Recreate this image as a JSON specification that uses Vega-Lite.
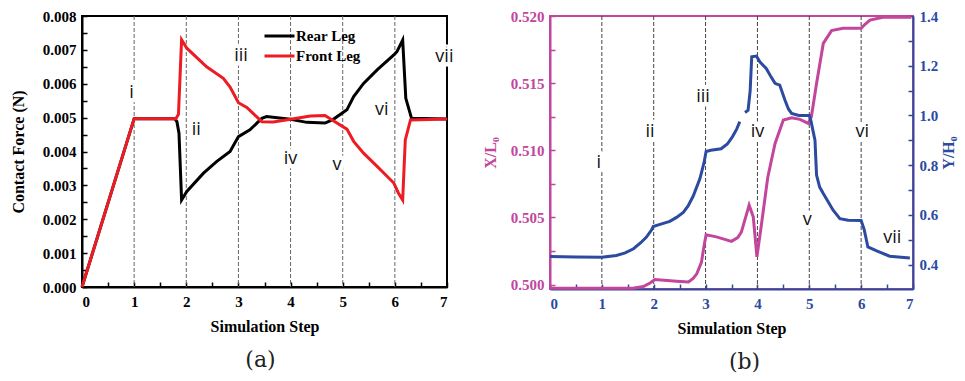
{
  "$schema": "https://vega.github.io/schema/vega-lite/v6.json",
  "background": "white",
  "padding": {"left": 9, "top": 8, "right": 0, "bottom": 0},
  "bounds": "flush",
  "spacing": 103,
  "config": {
    "view": {"stroke": null},
    "font": "Liberation Serif",
    "axis": {
      "grid": false,
      "labelFont": "Liberation Serif",
      "labelFontWeight": "bold",
      "labelFontSize": 15,
      "labelOverlap": false,
      "labelBound": false,
      "titleFont": "Liberation Serif",
      "titleFontWeight": "bold",
      "titleFontSize": 16,
      "domainWidth": 2,
      "tickWidth": 1.5,
      "tickSize": -5,
      "labelPadding": 12
    },
    "axisX": {
      "values": [0, 0.5, 1, 1.5, 2, 2.5, 3, 3.5, 4, 4.5, 5, 5.5, 6, 6.5, 7],
      "labelExpr": "datum.value % 1 === 0 ? format(datum.value, 'd') : ''",
      "titlePadding": 9
    }
  },
  "resolve": {"scale": {"color": "independent"}},
  "hconcat": [
    {
      "width": 365,
      "height": 271,
      "view": {"stroke": "black", "strokeWidth": 2},
      "title": {"text": "(a)", "orient": "bottom", "font": "DejaVu Serif", "fontSize": 22, "fontWeight": "normal", "frame": "group", "anchor": "middle", "offset": 16, "dx": -4, "color": "#222"},
      "layer": [
        {
          "data": {"values": [{"s": 1}, {"s": 2}, {"s": 3}, {"s": 4}, {"s": 5}, {"s": 6}]},
          "mark": {"type": "rule", "strokeDash": [4, 2], "color": "#666", "strokeWidth": 1},
          "encoding": {
            "x": {
              "field": "s", "type": "quantitative",
              "scale": {"domain": [0, 7], "nice": false},
              "axis": {"title": "Simulation Step", "domainColor": "black", "tickColor": "black", "labelColor": "black", "titleColor": "black"}
            }
          }
        },
        {
          "data": {"name": "legs", "values": [
            {"leg": "Rear Leg", "step": 0, "f": 0},
            {"leg": "Rear Leg", "step": 1, "f": 0.00497},
            {"leg": "Rear Leg", "step": 1.78, "f": 0.00497},
            {"leg": "Rear Leg", "step": 1.82, "f": 0.00488},
            {"leg": "Rear Leg", "step": 1.86, "f": 0.00454},
            {"leg": "Rear Leg", "step": 1.91, "f": 0.00257},
            {"leg": "Rear Leg", "step": 2.01, "f": 0.00282},
            {"leg": "Rear Leg", "step": 2.33, "f": 0.00336},
            {"leg": "Rear Leg", "step": 2.58, "f": 0.0037},
            {"leg": "Rear Leg", "step": 2.84, "f": 0.004},
            {"leg": "Rear Leg", "step": 3.0, "f": 0.00444},
            {"leg": "Rear Leg", "step": 3.22, "f": 0.00464},
            {"leg": "Rear Leg", "step": 3.45, "f": 0.00498},
            {"leg": "Rear Leg", "step": 3.54, "f": 0.00503},
            {"leg": "Rear Leg", "step": 4.0, "f": 0.00495},
            {"leg": "Rear Leg", "step": 4.31, "f": 0.00486},
            {"leg": "Rear Leg", "step": 4.66, "f": 0.00484},
            {"leg": "Rear Leg", "step": 4.82, "f": 0.00495},
            {"leg": "Rear Leg", "step": 5.08, "f": 0.00523},
            {"leg": "Rear Leg", "step": 5.21, "f": 0.00562},
            {"leg": "Rear Leg", "step": 5.4, "f": 0.00601},
            {"leg": "Rear Leg", "step": 5.66, "f": 0.00641},
            {"leg": "Rear Leg", "step": 5.98, "f": 0.00685},
            {"leg": "Rear Leg", "step": 6.04, "f": 0.00695},
            {"leg": "Rear Leg", "step": 6.15, "f": 0.00729},
            {"leg": "Rear Leg", "step": 6.21, "f": 0.00557},
            {"leg": "Rear Leg", "step": 6.32, "f": 0.00498},
            {"leg": "Rear Leg", "step": 7.0, "f": 0.00496},
            {"leg": "Front Leg", "step": 0, "f": 0},
            {"leg": "Front Leg", "step": 1, "f": 0.00497},
            {"leg": "Front Leg", "step": 1.8, "f": 0.00497},
            {"leg": "Front Leg", "step": 1.85, "f": 0.0051},
            {"leg": "Front Leg", "step": 1.91, "f": 0.0073},
            {"leg": "Front Leg", "step": 2.01, "f": 0.00705},
            {"leg": "Front Leg", "step": 2.39, "f": 0.0065},
            {"leg": "Front Leg", "step": 2.71, "f": 0.00616},
            {"leg": "Front Leg", "step": 2.84, "f": 0.0059},
            {"leg": "Front Leg", "step": 3.0, "f": 0.00544},
            {"leg": "Front Leg", "step": 3.16, "f": 0.0053},
            {"leg": "Front Leg", "step": 3.45, "f": 0.00488},
            {"leg": "Front Leg", "step": 3.67, "f": 0.00487},
            {"leg": "Front Leg", "step": 4.0, "f": 0.00495},
            {"leg": "Front Leg", "step": 4.38, "f": 0.00505},
            {"leg": "Front Leg", "step": 4.66, "f": 0.00506},
            {"leg": "Front Leg", "step": 4.82, "f": 0.00491},
            {"leg": "Front Leg", "step": 5.08, "f": 0.00466},
            {"leg": "Front Leg", "step": 5.21, "f": 0.0043},
            {"leg": "Front Leg", "step": 5.4, "f": 0.00395},
            {"leg": "Front Leg", "step": 5.66, "f": 0.00356},
            {"leg": "Front Leg", "step": 5.98, "f": 0.00307},
            {"leg": "Front Leg", "step": 6.07, "f": 0.00277},
            {"leg": "Front Leg", "step": 6.15, "f": 0.00257},
            {"leg": "Front Leg", "step": 6.2, "f": 0.00434},
            {"leg": "Front Leg", "step": 6.3, "f": 0.00493},
            {"leg": "Front Leg", "step": 7.0, "f": 0.00496}
          ]},
          "transform": [{"filter": "datum.leg === 'Rear Leg'"}],
          "mark": {"type": "line", "strokeWidth": 3},
          "encoding": {
            "x": {"field": "step", "type": "quantitative"},
            "y": {
              "field": "f", "type": "quantitative",
              "scale": {"domain": [0, 0.008], "nice": false},
              "axis": {
                "title": "Contact Force (N)",
                "values": [0, 0.0005, 0.001, 0.0015, 0.002, 0.0025, 0.003, 0.0035, 0.004, 0.0045, 0.005, 0.0055, 0.006, 0.0065, 0.007, 0.0075, 0.008],
                "labelExpr": "round(datum.value*2000) % 2 === 0 ? format(datum.value, '.3f') : ''",
                "labelOverlap": false,
                "domainColor": "black", "tickColor": "black", "labelColor": "black", "titleColor": "black",
                "labelPadding": 11,
                "titlePadding": 16
              }
            },
            "color": {
              "field": "leg", "type": "nominal",
              "scale": {"domain": ["Rear Leg", "Front Leg"], "range": ["black", "#ed1c24"]},
              "legend": {
                "title": null, "orient": "none", "legendX": 181, "legendY": 10,
                "symbolType": "stroke", "symbolStrokeWidth": 3, "symbolSize": 196,
                "labelFont": "Liberation Serif", "labelFontWeight": "bold", "labelFontSize": 15, "labelColor": "black",
                "rowPadding": 0, "clipHeight": 20, "labelOffset": 0,
                "encode": {"symbols": {"update": {"size": {"value": 900}}}}
              }
            }
          }
        },
        {
          "data": {"name": "legs"},
          "transform": [{"filter": "datum.leg === 'Front Leg'"}],
          "mark": {"type": "line", "strokeWidth": 3},
          "encoding": {
            "x": {"field": "step", "type": "quantitative"},
            "y": {
              "field": "f", "type": "quantitative",
              "axis": {
                "title": "Contact Force (N)",
                "values": [0, 0.0005, 0.001, 0.0015, 0.002, 0.0025, 0.003, 0.0035, 0.004, 0.0045, 0.005, 0.0055, 0.006, 0.0065, 0.007, 0.0075, 0.008],
                "labelExpr": "round(datum.value*2000) % 2 === 0 ? format(datum.value, '.3f') : ''",
                "labelOverlap": false,
                "domainColor": "black", "tickColor": "black", "labelColor": "black", "titleColor": "black",
                "labelPadding": 11,
                "titlePadding": 16
              }
            },
            "color": {"field": "leg", "type": "nominal"}
          }
        },
        {
          "data": {"name": "labelsA", "values": [
            {"t": "i", "step": 0.95, "f": 0.00572},
            {"t": "ii", "step": 2.19, "f": 0.00464},
            {"t": "iii", "step": 3.05, "f": 0.00682},
            {"t": "iv", "step": 4.0, "f": 0.00377},
            {"t": "v", "step": 4.89, "f": 0.00361},
            {"t": "vi", "step": 5.75, "f": 0.00523},
            {"t": "vii", "step": 6.95, "f": 0.0068}
          ]},
          "mark": {"type": "text", "font": "Open Sans", "fontSize": 18, "fill": "white", "stroke": "white", "strokeWidth": 9, "strokeJoin": "round", "align": "center", "baseline": "middle"},
          "encoding": {
            "x": {"field": "step", "type": "quantitative"},
            "y": {
              "field": "f", "type": "quantitative",
              "axis": {
                "title": "Contact Force (N)",
                "values": [0, 0.0005, 0.001, 0.0015, 0.002, 0.0025, 0.003, 0.0035, 0.004, 0.0045, 0.005, 0.0055, 0.006, 0.0065, 0.007, 0.0075, 0.008],
                "labelExpr": "round(datum.value*2000) % 2 === 0 ? format(datum.value, '.3f') : ''",
                "labelOverlap": false,
                "domainColor": "black", "tickColor": "black", "labelColor": "black", "titleColor": "black",
                "labelPadding": 11,
                "titlePadding": 16
              }
            },
            "text": {"field": "t"}
          }
        },
        {
          "data": {"name": "labelsA"},
          "mark": {"type": "text", "font": "Open Sans", "fontSize": 18, "color": "#111", "align": "center", "baseline": "middle"},
          "encoding": {
            "x": {"field": "step", "type": "quantitative"},
            "y": {
              "field": "f", "type": "quantitative",
              "axis": {
                "title": "Contact Force (N)",
                "values": [0, 0.0005, 0.001, 0.0015, 0.002, 0.0025, 0.003, 0.0035, 0.004, 0.0045, 0.005, 0.0055, 0.006, 0.0065, 0.007, 0.0075, 0.008],
                "labelExpr": "round(datum.value*2000) % 2 === 0 ? format(datum.value, '.3f') : ''",
                "labelOverlap": false,
                "domainColor": "black", "tickColor": "black", "labelColor": "black", "titleColor": "black",
                "labelPadding": 11,
                "titlePadding": 16
              }
            },
            "text": {"field": "t"}
          }
        }
      ]
    },
    {
      "width": 363,
      "height": 273,
      "view": {"stroke": "#c2469b", "strokeWidth": 2},
      "title": {"text": "(b)", "orient": "bottom", "font": "DejaVu Serif", "fontSize": 22, "fontWeight": "normal", "frame": "group", "anchor": "middle", "offset": 16, "dx": 13, "color": "#222"},
      "resolve": {"scale": {"y": "independent"}},
      "layer": [
        {
          "data": {"values": [{"s": 1}, {"s": 2}, {"s": 3}, {"s": 4}, {"s": 5}, {"s": 6}]},
          "mark": {"type": "rule", "strokeDash": [4, 2], "color": "#444", "strokeWidth": 1},
          "encoding": {
            "x": {
              "field": "s", "type": "quantitative",
              "scale": {"domain": [0, 7], "nice": false},
              "axis": {"title": "Simulation Step", "domainColor": "#2c4aa0", "tickColor": "#2c4aa0", "labelColor": "#2c4aa0", "titleColor": "black"}
            }
          }
        },
        {
          "data": {"values": [
            {"step": 0, "v": 0.49972}, {"step": 1.6, "v": 0.49972}, {"step": 1.8, "v": 0.49985},
            {"step": 1.93, "v": 0.50012}, {"step": 2.02, "v": 0.50037}, {"step": 2.2, "v": 0.50032},
            {"step": 2.44, "v": 0.50025}, {"step": 2.67, "v": 0.5002}, {"step": 2.76, "v": 0.50045},
            {"step": 2.83, "v": 0.5008}, {"step": 2.92, "v": 0.50165}, {"step": 2.98, "v": 0.5031},
            {"step": 3.01, "v": 0.5037}, {"step": 3.21, "v": 0.50355}, {"step": 3.5, "v": 0.50322},
            {"step": 3.62, "v": 0.5035}, {"step": 3.69, "v": 0.5039}, {"step": 3.84, "v": 0.50591},
            {"step": 3.92, "v": 0.50504}, {"step": 3.99, "v": 0.50206}, {"step": 4.08, "v": 0.50455},
            {"step": 4.14, "v": 0.50628}, {"step": 4.2, "v": 0.508}, {"step": 4.34, "v": 0.51051},
            {"step": 4.5, "v": 0.51225}, {"step": 4.66, "v": 0.51242}, {"step": 4.82, "v": 0.5123},
            {"step": 4.98, "v": 0.512}, {"step": 5.04, "v": 0.5125}, {"step": 5.14, "v": 0.51498},
            {"step": 5.27, "v": 0.51796}, {"step": 5.43, "v": 0.51891}, {"step": 5.65, "v": 0.51908},
            {"step": 6.0, "v": 0.51908}, {"step": 6.08, "v": 0.5194}, {"step": 6.17, "v": 0.5197},
            {"step": 6.42, "v": 0.5199}, {"step": 6.97, "v": 0.5199}
          ]},
          "mark": {"type": "line", "strokeWidth": 3, "color": "#c2469b"},
          "encoding": {
            "x": {"field": "step", "type": "quantitative"},
            "y": {
              "field": "v", "type": "quantitative",
              "scale": {"domain": [0.49967, 0.52], "nice": false, "zero": false},
              "axis": {
                "title": "X/L₀",
                "values": [0.5, 0.5025, 0.505, 0.5075, 0.51, 0.5125, 0.515, 0.5175, 0.52],
                "labelExpr": "abs(datum.value*200 - round(datum.value*200)) < 0.01 ? format(datum.value, '.3f') : ''",
                "labelOverlap": false,
                "domainColor": "#c2469b", "tickColor": "#c2469b", "labelColor": "#c2469b", "titleColor": "#c2469b",
                "labelPadding": 11,
                "titlePadding": 12
              }
            }
          }
        },
        {
          "data": {"values": [
            {"seg": 1, "step": 0, "v": 0.433}, {"seg": 1, "step": 0.5, "v": 0.431}, {"seg": 1, "step": 1.0, "v": 0.43},
            {"seg": 1, "step": 1.28, "v": 0.437}, {"seg": 1, "step": 1.45, "v": 0.447}, {"seg": 1, "step": 1.61, "v": 0.464},
            {"seg": 1, "step": 1.75, "v": 0.488}, {"seg": 1, "step": 1.86, "v": 0.511}, {"seg": 1, "step": 1.96, "v": 0.54},
            {"seg": 1, "step": 1.99, "v": 0.553}, {"seg": 1, "step": 2.09, "v": 0.56}, {"seg": 1, "step": 2.31, "v": 0.574},
            {"seg": 1, "step": 2.44, "v": 0.59}, {"seg": 1, "step": 2.57, "v": 0.61}, {"seg": 1, "step": 2.66, "v": 0.635},
            {"seg": 1, "step": 2.76, "v": 0.675}, {"seg": 1, "step": 2.89, "v": 0.745}, {"seg": 1, "step": 2.97, "v": 0.81},
            {"seg": 1, "step": 3.01, "v": 0.855}, {"seg": 1, "step": 3.1, "v": 0.86}, {"seg": 1, "step": 3.3, "v": 0.866},
            {"seg": 1, "step": 3.42, "v": 0.885}, {"seg": 1, "step": 3.52, "v": 0.915}, {"seg": 1, "step": 3.6, "v": 0.945},
            {"seg": 1, "step": 3.66, "v": 0.975},
            {"seg": 2, "step": 3.76, "v": 1.012}, {"seg": 2, "step": 3.82, "v": 1.021}, {"seg": 2, "step": 3.86, "v": 1.1},
            {"seg": 2, "step": 3.89, "v": 1.236}, {"seg": 2, "step": 3.98, "v": 1.239}, {"seg": 2, "step": 4.05, "v": 1.215},
            {"seg": 2, "step": 4.17, "v": 1.189}, {"seg": 2, "step": 4.25, "v": 1.16}, {"seg": 2, "step": 4.34, "v": 1.129},
            {"seg": 2, "step": 4.43, "v": 1.122}, {"seg": 2, "step": 4.53, "v": 1.062}, {"seg": 2, "step": 4.6, "v": 1.025},
            {"seg": 2, "step": 4.66, "v": 1.008}, {"seg": 2, "step": 4.8, "v": 1.0}, {"seg": 2, "step": 5.0, "v": 1.0},
            {"seg": 2, "step": 5.03, "v": 0.98}, {"seg": 2, "step": 5.08, "v": 0.93}, {"seg": 2, "step": 5.11, "v": 0.9},
            {"seg": 2, "step": 5.14, "v": 0.76}, {"seg": 2, "step": 5.2, "v": 0.712}, {"seg": 2, "step": 5.27, "v": 0.686},
            {"seg": 2, "step": 5.46, "v": 0.619}, {"seg": 2, "step": 5.59, "v": 0.585}, {"seg": 2, "step": 5.75, "v": 0.579},
            {"seg": 2, "step": 6.0, "v": 0.578}, {"seg": 2, "step": 6.06, "v": 0.54}, {"seg": 2, "step": 6.13, "v": 0.471},
            {"seg": 2, "step": 6.3, "v": 0.455}, {"seg": 2, "step": 6.55, "v": 0.434}, {"seg": 2, "step": 6.94, "v": 0.427}
          ]},
          "mark": {"type": "line", "strokeWidth": 3, "color": "#2c4aa0"},
          "encoding": {
            "x": {"field": "step", "type": "quantitative"},
            "detail": {"field": "seg", "type": "nominal"},
            "y": {
              "field": "v", "type": "quantitative",
              "scale": {"domain": [0.302, 1.4], "nice": false, "zero": false},
              "axis": {
                "orient": "right",
                "title": "Y/H₀",
                "titleAngle": 270,
                "titleBaseline": "top",
                "values": [0.4, 0.5, 0.6, 0.7, 0.8, 0.9, 1.0, 1.1, 1.2, 1.3, 1.4],
                "labelExpr": "round(datum.value*10) % 2 === 0 ? format(datum.value, '.1f') : ''",
                "labelOverlap": false,
                "domainColor": "#2c4aa0", "tickColor": "#2c4aa0", "labelColor": "#2c4aa0", "titleColor": "#2c4aa0",
                "labelPadding": 11,
                "titlePadding": 3
              }
            }
          }
        },
        {
          "data": {"name": "labelsB", "values": [
            {"t": "i", "step": 0.94, "v": 0.807},
            {"t": "ii", "step": 1.93, "v": 0.934},
            {"t": "iii", "step": 2.95, "v": 1.075},
            {"t": "iv", "step": 4.0, "v": 0.934},
            {"t": "v", "step": 4.96, "v": 0.579},
            {"t": "vi", "step": 6.02, "v": 0.934},
            {"t": "vii", "step": 6.6, "v": 0.509}
          ]},
          "mark": {"type": "text", "font": "Open Sans", "fontSize": 18, "fill": "white", "stroke": "white", "strokeWidth": 9, "strokeJoin": "round", "align": "center", "baseline": "middle"},
          "encoding": {
            "x": {"field": "step", "type": "quantitative"},
            "y": {"field": "v", "type": "quantitative", "scale": {"domain": [0.302, 1.4], "nice": false, "zero": false}, "axis": null},
            "text": {"field": "t"}
          }
        },
        {
          "data": {"name": "labelsB"},
          "mark": {"type": "text", "font": "Open Sans", "fontSize": 18, "color": "#111", "align": "center", "baseline": "middle"},
          "encoding": {
            "x": {"field": "step", "type": "quantitative"},
            "y": {"field": "v", "type": "quantitative", "scale": {"domain": [0.302, 1.4], "nice": false, "zero": false}, "axis": null},
            "text": {"field": "t"}
          }
        }
      ]
    }
  ]
}
